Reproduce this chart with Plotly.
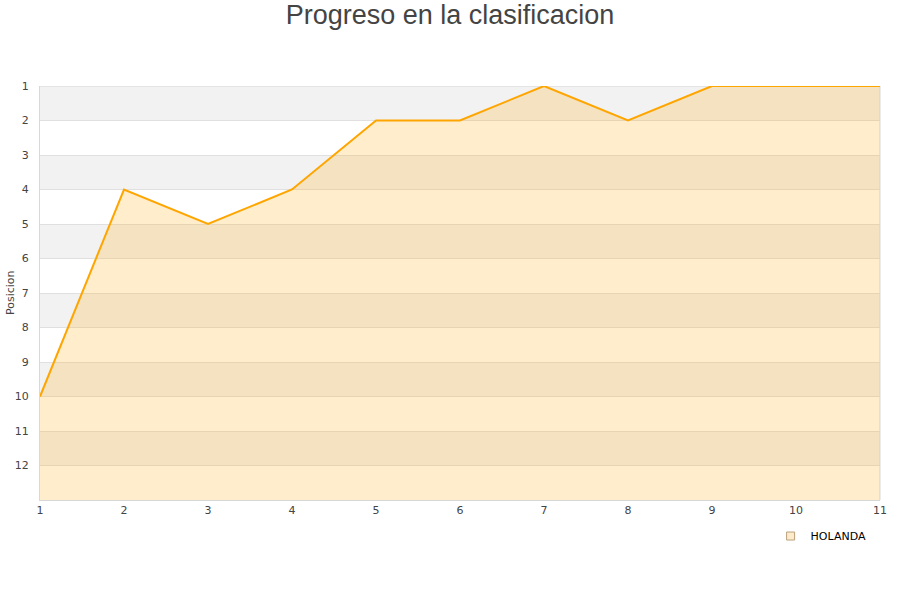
import plotly.graph_objects as go

jornadas = [1, 2, 3, 4, 5, 6, 7, 8, 9, 10, 11]
posiciones = [10, 4, 5, 4, 2, 2, 1, 2, 1, 1, 1]
equipo = "HOLANDA"
y_ticks = list(range(1, 13))
fondo = 13

fig = go.Figure()

# alternating background bands
for k in range(1, 13, 2):
    fig.add_shape(type="rect", xref="paper", yref="y", x0=0, x1=1, y0=k, y1=k + 1,
                  fillcolor="#f2f2f2", line_width=0, layer="below")

fig.add_trace(go.Scatter(x=jornadas, y=[fondo] * len(jornadas), mode="lines",
                         line=dict(width=0, color="rgba(0,0,0,0)"), showlegend=False,
                         hoverinfo="skip"))
fig.add_trace(go.Scatter(x=jornadas, y=posiciones, mode="lines", fill="tonexty",
                         fillcolor="rgba(255,165,0,0.2)",
                         line=dict(color="#ffa500", width=2), name=equipo, showlegend=False))
fig.add_trace(go.Scatter(x=[None], y=[None], mode="markers", name=equipo,
                         marker=dict(symbol="square", size=8, color="#ffebcc",
                                     line=dict(color="#b8a27a", width=1))))

fig.update_layout(
    width=900, height=600,
    paper_bgcolor="white", plot_bgcolor="white",
    margin=dict(l=40, r=20, t=86, b=100, autoexpand=False),
    title=dict(text="Progreso en la clasificacion", x=0.5, xanchor="center",
               y=1 - 15 / 600, yanchor="middle", yref="container",
               font=dict(family="Liberation Sans, Arial", size=27, color="#444444")),
    font=dict(family="DejaVu Sans", size=11, color="#444444"),
    xaxis=dict(range=[1, 11], tickvals=jornadas, showgrid=False, zeroline=False,
               showline=True, linecolor="#d8d8d8", linewidth=1, automargin=False,
               tickfont=dict(size=11, color="#444444")),
    yaxis=dict(range=[fondo, 1], tickvals=y_ticks, showgrid=True, gridcolor="#e0e0e0",
               zeroline=False, showline=True, linecolor="#d8d8d8", linewidth=1,
               automargin=False, ticklabelstandoff=8,
               tickfont=dict(size=11, color="#444444")),
    legend=dict(x=0.99, xanchor="right", y=-0.087, yanchor="middle", orientation="h",
                font=dict(size=11, color="#000000"), bgcolor="rgba(0,0,0,0)",
                itemwidth=30),
    showlegend=True,
)
fig.add_annotation(text="Posicion", xref="paper", yref="paper", x=-30 / 840, y=0.5,
                   xanchor="center", yanchor="middle", textangle=-90, showarrow=False,
                   font=dict(size=11, color="#444444"))
fig.add_shape(type="line", xref="paper", yref="y", x0=0, x1=1, y0=1, y1=1,
              line=dict(color="#d8d8d8", width=1), layer="below")
fig.add_shape(type="line", xref="paper", yref="paper", x0=1, x1=1, y0=0, y1=1,
              line=dict(color="#d8d8d8", width=1), layer="below")

fig.write_html("out.html", config={"displayModeBar": False},
               post_script="document.body.style.margin='0';")
